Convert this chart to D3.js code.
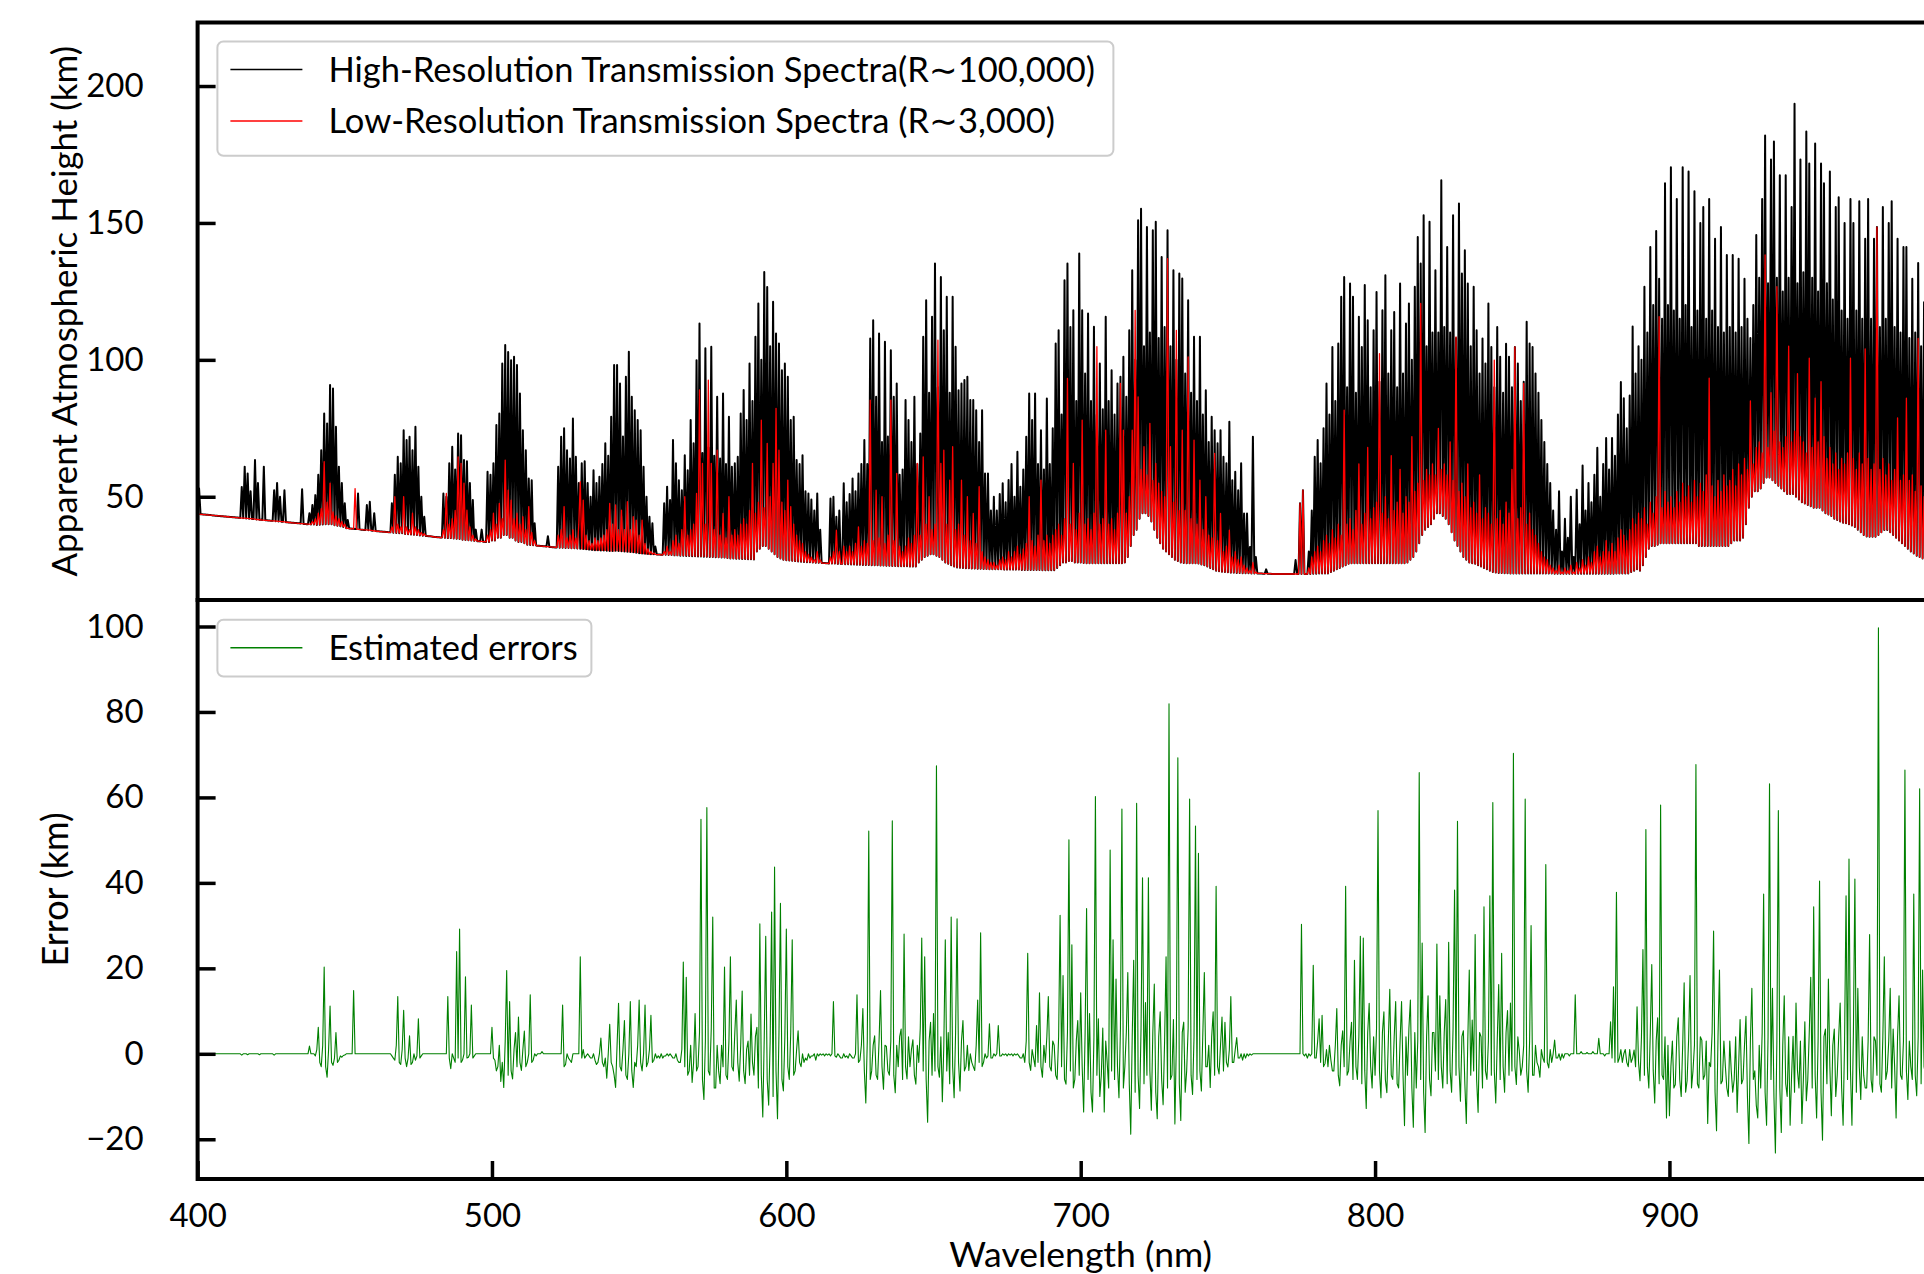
<!DOCTYPE html>
<html>
<head>
<meta charset="utf-8">
<script src="https://cdn.jsdelivr.net/npm/d3@7"></script>
<style>
  body { margin: 0; background: #fff; overflow: hidden; }
</style>
</head>
<body>
<svg id="chart" width="1924" height="1274"></svg>
<script>
// wavelength grid: first sample at 400 nm, every 0.5 nm
const startNm = 400;
const sampleStep = 0.5;

// apparent atmospheric height (km), high resolution (R~100,000)
const highResHeight = [
  43.7,53,43.6,43.6,43.5,43.5,43.4,43.4,43.3,43.3,43.2,43.2,43.1,43.1,43.0,43.0,42.9,42.9,42.8,42.8,
  42.7,42.7,42.6,42.6,42.5,42.5,42.4,42.4,42.3,42.3,53.6,42.2,61,42.1,58.5,42.0,52,41.9,41.9,63.4,
  41.7,55,41.6,41.6,41.5,61,41.4,41.4,41.3,41.3,41.2,41.2,52.4,41.1,55,41.0,50,40.9,40.9,52.4,
  40.7,40.7,40.6,40.6,40.5,40.5,40.4,40.4,40.3,40.3,40.2,52.7,40.1,40.1,40.0,40.0,44,39.9,47,39.9,
  50.6,39.7,58,39.8,67,39.9,80.4,40,76.8,40,90.8,40,89.5,39.6,75.6,39.4,61,39.2,55,39.0,
  47.6,38.5,41.5,38.4,38.4,38.3,38.3,38.2,38.2,51.2,38.1,38.0,38.0,37.9,37.9,47,37.8,48.2,37.7,37.6,
  44,37.5,37.4,37.4,37.3,37.3,37.2,37.2,37.1,37.1,37.0,37.0,47.6,36.9,58,36.8,64.6,36.7,62.2,36.7,
  74.3,36.4,70.7,36.3,71.9,36.2,67,36.1,75.6,36.0,61,35.9,50,35.8,42.7,35.7,35.7,35.6,35.6,35.5,
  35.4,35.3,35.3,35.2,35.2,35.1,35.1,51.2,35.0,50,34.9,62.2,34.9,68.3,34.8,60,34.7,73.1,34.6,72.5,
  34.3,63.4,34.2,63,34.1,55,34.0,48.8,33.9,38,33.8,33.8,33.7,38,33.6,33.6,33.5,59.1,33.5,58,
  34,62.2,34,76.2,35,80.4,35,98.7,36,105.4,36,102.9,35,99.9,35,101.1,34,98.1,33.5,87.7,
  33.5,74.3,33,67,32.5,56.7,32.4,56,32.3,40.3,32.2,32.1,32.1,32.0,32.0,31.9,31.9,31.8,35.6,31.7,
  31.7,31.6,31.6,31.5,31.5,61,31.4,71.9,31.4,75,31.3,67,31.3,64,31.2,78.6,31.2,64.6,31.1,55,
  31,62.2,30.9,63,30.8,55,30.7,50,30.6,59.7,30.5,55,30.5,57.3,30.4,62,30.4,69.5,30.3,65,
  30.2,79.2,30.2,98.1,30.3,98.1,30.2,91.4,30.1,72,30.0,93.8,29.9,103,29.8,86.5,29.7,81.6,29.6,78,
  29.4,74.3,29.3,61,29.2,50,29.1,42.7,29.0,40.3,29.0,31.8,28.9,28.9,28.9,28.8,28.8,47.6,28.8,53.7,
  28.7,48.8,28.7,70.7,28.6,62.2,28.6,56,28.5,52.4,28.5,65.2,28.4,59.7,28.4,78,28.3,69.5,28.3,99.9,
  28.2,113.3,28.2,66,28.1,104.2,28.1,68,28.0,104.8,28.0,65,27.9,86.5,27.9,64,27.8,87.7,27.8,62,
  27.6,79.2,27.5,61,27.5,62.2,27.4,64.6,27.4,80.4,27.3,89,27.3,78,27.2,98.7,27.2,85,27.1,108.4,
  30,120.6,31,100,32,132.1,32,126.6,31,105,30,121.2,29,109.6,28,106,27.5,96.2,27,98.7,
  26.8,93.8,26.7,78,26.6,79.2,26.5,63.4,26.4,62,26.3,65.2,26.2,52,26.1,51.2,26.1,49,26.0,45,
  25.9,51.2,25.9,38,25.8,25.8,25.8,25.7,25.7,25.6,49.4,25.6,50,25.6,42.7,25.5,45,25.5,25.5,54.9,
  25.4,48,25.4,51,25.3,56.7,25.3,52,25.2,58.5,25.2,62,25.1,70.7,25.1,62,25.1,107.8,25.0,114.5,
  25.0,86.5,25.0,109.6,24.9,70,24.9,106.6,24.8,72,24.8,103.5,24.7,86.5,24.7,91.4,24.6,58,24.6,60,
  24.6,85.3,24.6,78,24.5,70,24.5,86.5,24.5,62,26,73.1,27,108.4,28,121.8,28.5,88,29,115.7,
  29,135.2,28.5,90,28,130.3,27,110.8,26,123,25.5,88,25,123,24.5,104.8,24.2,88.9,24.1,91.4,
  24.0,92.6,23.9,93.8,23.9,85.3,23.8,85.3,23.8,81.6,23.7,70,23.7,81.6,23.6,58.5,23.6,58.5,23.5,45,
  23.5,50,23.5,45,23.5,51,23.5,54.9,23.4,48,23.4,56.1,23.4,62,23.4,50,23.4,66.4,23.4,53.7,
  23.3,60,23.3,71.9,23.3,87.7,23.3,78,23.3,87.7,23.3,62,23.3,74.3,23.2,60,23.2,85.9,23.2,62,
  23.2,75,23.2,106,24,110.8,25,80,26,129.1,26,135.2,26.5,112,26.5,118.1,26,85,26,138.8,
  26,118.1,25.8,95,25.7,116.9,25.7,85,25.7,112.1,25.7,80,25.7,98.7,25.7,82,25.7,115.7,25.7,85,
  25.7,96.2,25.7,80,25.7,91.4,25.7,93.8,25.7,101.1,26,86.5,28,110.8,32,132.7,36,100,38,151,
  42,155.2,44,105,44,148.5,43,110,41,147.3,38,150.4,35,108,33,137.6,31,112,30,147.3,
  29,105,28,132.7,27,100,26.5,131.5,26,129.7,25.8,95,25.7,121.8,25.7,88,25.7,108.4,25.7,85,
  25.6,108.4,25.3,80,25,88.9,24.5,70,24,79.2,23.5,74.3,23,69.5,22.8,74.3,22.6,64.6,22.5,62.2,
  22.4,77.4,22.3,56,22.3,59.1,22.2,52.4,22.2,62.2,22.1,43.9,22.1,43.9,22.1,31.7,22.0,71.9,22.0,28,
  22.0,22.0,22.0,22.0,21.9,21.9,23.5,21.9,21.9,21.9,21.8,21.8,21.8,21.8,21.8,21.8,21.8,21.8,21.8,21.8,
  21.8,21.8,21.8,21.8,21.8,21.8,26.9,21.8,21.8,47.6,21.8,52.4,21.8,21.8,21.8,30,21.8,45,21.9,64.6,
  21.9,70.7,22,62.2,22,75,22,91.4,22,80,22.5,104.7,23,85,23.5,106,24,123,24.5,130.3,
  25,90,25.5,127.9,25.7,123,25.7,88,25.7,115.7,25.7,104.7,25.7,127.3,25.7,114.5,25.7,90,25.7,110.8,
  25.7,124.8,25.7,92,25.7,118.1,25.7,130.9,25.7,95,25.7,110.8,25.7,117.5,25.7,90,25.7,127.9,25.7,95,
  25.7,113.3,26,120.6,27,100,28,126.7,30,144.9,33,135.2,36,152.8,38,105,39,150.4,40,110,
  42,132.7,44,110,44,165.6,43,112,42,141.2,40,110,37,152.8,34,108,32,157.1,30,131.5,
  28,140,27,127.9,26,105,25.7,126.7,25.5,110.8,25,95,24.5,107.8,24,98.7,23.5,120.6,23,104.7,
  22.5,90,22.3,112,22.2,101.1,22.2,88,22.1,105.9,22.1,101.1,22,90,22,104.7,22,98.7,22,85,
  22,92,22,113.9,22,106,22,104.7,22,95,22,88,22,78,22,70,22,62,22,55,
  22,45,21.9,38,21.9,52,21.9,30,21.9,42,21.9,35,21.9,50,21.9,28,21.9,52.6,21.9,40,
  21.9,61.4,21.9,45,21.9,55,21.9,48,21.9,58,21.9,67.9,21.9,50,21.9,62,21.9,71.5,21.9,60,
  21.9,71.5,21.9,65,22,80,22,91.9,22,86,22,75,22,87,22.5,112.2,23,95,23.5,105,
  23,100,25,126.7,28,110,31,141.2,32,120,32,147.1,32.5,129.6,33,115,33,164.5,33,120,
  33,170.3,33,118,33,158.7,33,115,33,170.3,33,120,33,168.8,33,112,33,161.6,33,118,
  32,150,32,155.8,32,115,32,158.7,32,118,32,144.2,32,112,32,148.5,32,110,32,138.3,
  32,112,33,138.3,34,110,34,136.9,34,112,35,129.6,40,115,46,108,50,120,52,145.6,
  52,130,53,158.7,55,181.9,57,128,57,173.2,56,179.7,55,130,54,167.4,53,125,52,167.4,
  51,130,51,155.8,51,193.5,50,128,49,173.2,48,132,47.5,183.4,47,171.7,46.5,130,46,179,
  46,125,46,171.7,45,164.5,44,128,43.5,168.8,43,122,42,155.8,41.5,159.4,41,118,40.5,150,
  40.3,115,40,158.7,39.5,150,39,118,38,157.9,37,115,36,144.2,35.5,158.7,35.4,115,35.4,144.2,
  35.4,148.5,36,112,37,155.8,37.9,115,37.9,150,37,157.9,36,112,35,144.2,34,110,33,141.2,
  32,141.2,31,108,30,129.6,29.3,110,28.5,135.4,28,105,27.5,121,27,129.6,26.5,100,26,115
];

// apparent atmospheric height (km), low resolution (R~3,000)
const lowResHeight = [
  43.7,43.7,43.6,43.6,43.5,43.5,43.4,43.4,43.3,43.3,43.2,43.2,43.1,43.1,43.0,43.0,42.9,42.9,42.8,42.8,
  42.7,42.7,42.6,42.6,42.5,42.5,42.4,42.4,42.3,42.3,42.2,42.2,42.2,42.1,42.1,42.0,42.0,41.9,41.9,41.8,
  41.7,41.7,41.6,41.6,41.5,41.5,41.4,41.4,41.3,41.3,41.2,41.2,41.2,41.1,41.1,41.0,41.0,40.9,40.9,40.8,
  40.7,40.7,40.6,40.6,40.5,40.5,40.4,40.4,40.3,40.3,40.2,40.2,40.1,40.1,40.0,40.0,40.0,39.9,41,39.9,
  42,39.7,44,39.8,45.7,40,62.8,40,48,40,55,40,44.5,39.6,43,39.4,42,39.2,41,39.0,
  40,38.5,38.5,38.4,38.4,38.3,38.3,53,38.2,38.2,38.1,38.0,38.0,37.9,37.9,37.9,37.8,37.8,37.7,37.6,
  37.5,37.5,37.4,37.4,37.3,37.3,37.2,37.2,37.1,37.1,37.0,37.0,39,36.9,50,36.8,40,36.7,39,36.7,
  50,36.4,39,36.3,38,36.2,44,36.1,39,36.0,38,35.9,37,35.8,36.5,35.7,35.7,35.6,35.6,35.5,
  35.4,35.3,35.3,35.2,35.2,35.1,35.1,38,35.0,51.2,34.9,40,34.9,42,34.8,45,34.7,64.6,34.6,62.2,
  34.3,55,34.2,45.1,34.1,39,34.0,36,33.9,34.5,33.8,33.8,33.7,33.7,33.6,33.6,33.5,36,33.5,38,
  34,44,34,40,35,47.6,35,42,36,63.4,36,52.4,35,48.8,35,42,34,44,33.5,40,
  33.5,42.7,33,38,32.5,46.4,32.4,37,32.3,34,32.2,32.1,32.1,32.0,32.0,31.9,31.9,31.8,31.8,31.7,
  31.7,31.6,31.6,31.5,31.5,36,31.4,38,31.4,46.4,31.3,35,31.3,36,31.2,38,31.2,35,31.1,40,
  55.5,31,48.8,30.9,36,30.8,34,30.7,33,30.6,35,30.5,34,30.5,35,30.4,36,30.4,38,30.3,
  47.6,30.2,40,30.2,47,30.3,38,30.2,45.1,30.1,38,30.0,48.2,29.9,38,29.8,42.7,29.7,41.5,29.6,
  36,29.3,41.5,29.2,33,29.1,31,29.0,30,29.0,29.5,29.0,28.9,28.9,28.9,28.8,28.8,30,28.8,32,
  28.8,30,28.7,34,28.7,36,28.6,33,28.6,38,28.5,50,28.5,36,28.4,38,28.4,40,28.3,51.2,
  28.3,89,28.2,62.2,28.2,40,28.1,92.6,28.1,62.2,28.0,38,28.0,67,27.9,36,27.9,43.9,27.8,35,
  27.6,50,27.5,36,27.5,38,27.4,36,27.4,40,27.3,42,27.3,40,27.2,45,27.2,62.2,27.1,44,
  30,48,31,78,32,46,32,69.5,31,50,30,62.2,29,82.3,28,67,27.5,48,27,45,
  26.8,56.1,26.7,46.4,26.6,40,26.5,36,26.4,34,26.3,33,26.2,30,26.1,29,26.1,28,26.0,27,
  25.9,30,25.9,27,25.8,25.8,25.8,25.7,25.7,25.6,28,25.6,30,25.6,37.8,25.5,30,25.5,25.5,32,
  25.4,30,25.4,32,25.3,30,25.3,33,25.2,39,25.2,32,25.1,34,25.1,33,25.1,85.3,25.0,34,
  25.0,52.4,25.0,35,24.9,50,24.9,33,24.8,36,24.8,85.3,24.7,34,24.7,58.5,24.6,32,24.6,30,
  24.6,32,24.6,35,24.5,33,24.5,36,24.5,62.2,26,36,27,64.6,28,40,28.5,50,29,38,
  29,40,28.5,107.2,28,62.2,27,67,26,40,25.5,56.1,25,68.3,24.5,38,24.2,40,24.1,56.1,
  24.0,36,23.9,50,23.9,34,23.8,43.9,23.8,33,23.7,53.7,23.7,30,23.6,28,23.6,27,23.5,26,
  23.5,26,23.5,25,23.5,27,23.5,28,23.4,27,23.4,30,23.4,28,23.4,30,23.4,32,23.4,29,
  23.3,31,23.3,33,23.3,50,23.3,34,23.3,32,23.3,36,23.3,56.1,23.2,34,23.2,36,23.2,33,
  23.2,36,23.2,38,24,40,25,36,26,42,26,93.2,26.5,40,26.5,62.2,26,38,26,44,
  26,78,25.8,40,25.7,42,25.7,38,25.7,44,25.7,104.8,25.7,40,25.7,42,25.7,74.3,25.7,40,
  25.7,42,25.7,38,25.7,44,25.7,91.4,25.7,74.3,26,44,28,50,32,74.3,36,118.1,38,86.5,
  42,60,44,68.3,44,58,43,76.8,41,56,38,62.2,35,55,33,52,31,50,30,137,
  29,68.3,28,48,27,110.8,26.5,45,26,74.3,25.8,45,25.7,101.1,25.7,42,25.7,70.7,25.7,40,
  25.6,56.1,25.3,38,25,50,24.5,36,24,35,23.5,65.8,23,34,22.8,43.9,22.6,30,22.5,32,
  22.4,37.8,22.3,28,22.3,30,22.2,27,22.2,28,22.1,25,22.1,24,22.1,23,22.0,26,22.0,22.5,
  22.0,22.0,22.0,22.0,21.9,21.9,21.9,21.9,21.9,21.9,21.8,21.8,21.8,21.8,21.8,21.8,21.8,21.8,21.8,21.8,
  21.8,21.8,21.8,21.8,21.8,21.8,21.8,21.8,21.8,47.6,21.8,52.4,21.8,21.8,21.8,24,21.8,28,21.9,30,
  21.9,32,22,30,22,34,22,36,22,33,22.5,38,23,35,23.5,40,24,36,24.5,81.6,
  25,40,25.5,42,25.7,38,25.7,45,25.7,62,25.7,40,25.7,44,25.7,68,25.7,42,25.7,46,
  25.7,48,25.7,102.3,25.7,44,25.7,50,25.7,42,25.7,65,25.7,45,25.7,48,25.7,60,25.7,44,
  25.7,50,26,48,27,72,28,52,30,55,33,120.6,36,56,38,60,39,58,40,62,
  42,58,44,75,44,60,43,62,42,58,40,70,37,56,34,108.4,32,52,30,55,
  28,50,27,62,26,46,25.7,48,25.5,44,25,58,24.5,42,24,46,23.5,44,23,40,
  22.5,99.9,22.3,42,22.2,45,22.2,40,22.1,48,22.1,44,22,60,22,104.7,22,42,22,46,
  22,91.4,22,40,22,44,22,38,22,36,22,33,22,30,22,28,22,27,22,25,
  22,24,21.9,23,21.9,25,21.9,22.5,21.9,24,21.9,23,21.9,25,21.9,22.5,21.9,26,21.9,24,
  21.9,27,21.9,25,21.9,28,21.9,26,21.9,30,21.9,32,21.9,28,21.9,30,21.9,34,21.9,30,
  21.9,33,21.9,30,22,35,22,38,22,36,22,34,22,38,22.5,42,23,40,23.5,44,
  23,42,25,46,28,40,31,48,32,44,32,50,32.5,115.8,33,46,33,52,33,48,
  33,50,33,46,33,52,33,48,33,55,33,50,33,54,33,48,33,56,33,50,
  32,55,32,52,32,58,32,93.3,32,54,32,50,32,56,32,52,32,58,32,54,
  32,56,33,60,34,54,34,62,34,58,35,64,40,60,46,85,50,62,52,68,
  52,70,53,66,55,138.3,57,68,57,88,56,74,55,126.7,54,70,53,68,52,72,
  51,105,51,70,51,74,50,95,49,72,48,70,47.5,66,47,100.6,46.5,68,46,86,
  46,70,46,92,45,72,44,64,43.5,68,43,62,42,66,41.5,60,41,64,40.5,62,
  40.3,66,40,100.6,39.5,64,39,60,38,66,37,62,36,104,35.5,64,35.4,60,35.4,62,
  35.4,148.5,36,60,37,64,37.9,58,37.9,62,37,56,36,60,35,78.8,34,56,33,58,
  32,86,31,56,30,58,29.3,52,28.5,107.8,28,54,27.5,50,27,52,26.5,48,26,50
];

// estimated error (km)
const errorKm = [
  0,0,0,0,0,0,0,0,0,0,0,0,0,0,0,0,0,0,0,0,
  0,0,0,0,0,0,0,0,0,0,-0.3,0,0,0,-0.2,0,0,0,0,0,
  0,0,-0.2,0,0,0,0,0,0,0,0,0,-0.3,0,0,0,0,0,0,0,
  0,0,0,0,0,0,0,0,0,0,0,0,0,0,0,0,1.8,0,0,0,
  -0.5,1,6.2,-2,-3,2,20.3,-3,-5.5,1,11.2,-2,-2.7,-1,5,-2,-1.5,-0.5,-0.8,-0.4,
  -0.3,0,0,0,0,0,14.8,0,0,0,0,0,0,0,0,0,0,0,0,0,
  0,0,0,0,0,0,0,0,0,0,0,0,-0.5,-1,-1.5,2,13.4,-2,-2.5,1,
  10.2,-1,-3,-1,4.2,-2.5,-2,0,-1.5,-0.5,8.2,-1,-0.5,0,0,0,0,0,0,0,
  0,0,0,0,0,0,0,0,0,0,13.4,-1,-3.5,0,-1,-2,23.9,-1,29.2,-2,
  -1.5,0,18,-1,-0.8,0,11.4,-1,-0.5,0,0,0,0,0,0,0,0,0,0,0,
  6.2,-1,-1.5,-4,-3,2,-6.5,-2,-7.9,3,19.5,-5,12.2,-4,-5.9,1,5,-3,8.6,-2,
  -3.9,1,5.3,-3,-2,0,13.8,-2,-1.5,0,-0.5,0,0,0,0.5,0,0,0,0,0,
  0,0,0,0,0,0,0,0,11.4,-3,-2.5,0,-1,-1.5,-2,0,0,0,0,0,
  22.7,-1,1,-1,-0.5,0,-0.5,-1,-1,0,-1.5,-2.5,-2,0,3.7,-2,-3,-1,-5.7,0,
  6.9,-2,-3,-5,-7.9,2,11.8,-3,-4,1,7.8,-5,-6,0,12.2,-4,-7.9,-2,-3,2,
  12.6,-2,-4,0,11.4,-3,-2,1,9,-2,-1.5,0,-1,-0.5,-1,0,-1,-0.5,-0.5,0,
  -0.5,0,-0.5,-1,-1,0,-1.5,-2,-2,1,21.5,-3,17.9,-5,-4,2,-6.7,-2,9.4,-4,
  -3,5,54.9,-6,-10.7,3,57.6,-4,-5,6,32,-8,-8,2,-4,-7,2,-3,20.3,-5,
  -6,3,22.7,-3,-4,5,12.6,-2,-6.4,2,14.7,-4,-7,1,3,-5,9.3,-2,-5,4,
  6.2,-8,30.4,-5,-14.8,4,27.5,-6,-12,3,33.2,-10,43.7,-4,-15.2,5,35.2,-6,-8.7,4,
  29.2,-3,-6,5,26.7,-5,-4,1,5.4,-2,-3,0,-2,-1,-1.5,0,-1,-0.5,-0.5,0,
  -1.5,0,-0.5,0,-0.3,0,-0.5,0,-0.3,0,-0.5,0,12.2,-0.5,-0.8,0,-0.5,-1,-1,0,
  -0.8,-0.5,-1,0,-0.5,-1,-1,0,13.8,-2,-1.5,2,10.6,-4,-11.5,3,52.1,-6,-4,2,
  4.2,-5,-6,3,14.8,-3,-8.3,2,1.7,-4,-5,3,54.5,-5,-9.1,2,-3,4,5.8,-6,
  28,-3,-5.9,4,-3,1,3.3,-5,-7.1,2,-2,6,27.1,-4,22.7,-6,-16,3,7.4,-5,
  9.4,-4,67.4,-3,-5.5,4,-11.2,2,26.7,-4,5,-7,32,-3,-10.3,5,31.6,-2,-8.7,3,
  7.8,-4,-3,2,-3.9,0,-2,-3,-3.9,2,12.6,-2,28.3,-3,-2,0,-1,-0.5,7,-1,
  -1,0,-0.5,0,6.6,-0.5,-0.5,0,-0.3,0,-0.5,0,-0.3,0,-0.5,0,-0.3,0,-0.5,-1,
  -1,0,-2,3,23.5,-2,-3.9,1,-1,-3,6.6,-2,14.3,-3,-5.5,2,-2,4,13.4,-3,
  -4,3,2,-5,-6,4,32.4,-3,18.3,-6,-7.1,5,50.1,-4,25.5,-8,-6,3,7.8,-5,
  14.3,-3,-13.6,5,34,-6,9.4,-9,-13.6,4,60.2,-5,8.2,-10,-5,6,-13.6,3,-2,-8,
  47.7,-4,26.7,-6,17.5,-3,-10.3,6,57.3,-8,-3,5,19,-7,-18.8,4,21.9,-9,58.6,-5,
  -12.8,6,41.2,-7,12,-5,41.2,-4,-13.2,5,16.3,-9,-15.2,4,9.8,-6,-11.9,3,22.7,-8,
  81.9,-6,-5,8,-16.4,3,69.3,-7,-15.6,5,7.4,-9,-4,6,59.6,-5,-9.5,4,53.3,-6,
  46.9,-4,-8.7,5,19,-3,-3,2,-7.9,4,9.8,-5,39.2,-3,-4.7,2,8.6,-4,7.4,-2,
  -3.1,1,13.4,-2,-2,1,3.8,-1,-1,0,-1.5,0,-1,0,-0.5,0,-0.3,0,0,0,
  0,0,0,0,0,0,0,0,0,0,0,0,0,0,0,0,0,0,0,0,
  0,0,0,0,0,0,0,0,0,0,30.3,0,-0.5,0,-1,0,-0.5,0,20.7,-1,
  -1,3,8.2,-2,9,-3,-2.3,1,-3,2,-1.5,-4,-4,2,10.6,-5,-7.5,2,5.4,-3,
  39.2,-5,-4,3,7.4,-6,21.9,-3,-6,4,27.5,-7,27.1,-4,-12.8,5,11.8,-3,-8,4,
  -5,6,56.9,-4,-10.3,5,9.8,-6,-9.1,3,15.1,-5,-6,4,12.2,-7,-8,3,12.2,-5,
  -16.8,4,-5,6,12.6,-8,-17.2,5,-8,3,65.8,-6,25.9,-9,-18.4,4,13.6,-6,-9.8,5,
  5,-4,25.7,-6,13.6,-3,-8,5,12.7,-7,26.1,-4,-9,6,38.3,-5,54.4,-3,-11.1,4,
  5.4,-7,-16.3,3,19.6,-5,7.9,-4,27.9,-6,-13.7,5,4,-8,34.4,-4,-6,3,37,-5,
  58.8,-4,-11.5,3,16.2,-6,23.5,-3,-9,5,10.1,-5,11.9,-4,70.3,-3,-7.2,4,0.6,-5,
  -3,2,59.6,-4,-9,3,30,-5,-5,2,-2,-3,-5.5,1,-1,-2,44.3,-2,-3.3,1,
  -2,0,3.2,-1,-1,0,-1.5,0,-1,0,0,0,-0.5,0,0,0,13.8,0,0,0,
  0.5,0,0,0,0.3,0,0,0,0.5,0,0,0,3.6,0,0,0,-0.5,0,0,0,
  7.5,-1,15.7,-2,37.8,-2,-1,1,-2,0,1,-2,-3,1,-2,-1,0.9,-3,11,-2,
  -6.3,4,24.4,-5,52.5,-3,-8,5,20.9,-4,-11.5,3,8.4,-7,58.2,-5,-6,4,-15,2,
  -14.5,-3,3,-8,-7.2,4,8.4,-6,-10,2,16.6,-9,-6.3,3,18.3,-8,-4,2,67.7,-7,
  -8,4,3.2,-6,-5,3,-16.3,-2,-3,5,28.7,-9,-18,4,19.6,-7,-6.3,3,-2.9,-8,
  -10,3,-4,-9,-6,4,-13.7,-3,8,-7,-6,2,8.8,-10,-21,3,15.3,-6,-4,-12,
  -15,2,-8,5,37.4,-9,-16.7,4,63.2,-6,15.3,-10,-23.2,3,56.9,-8,-18.4,2,13.6,-7,
  -10,4,-16.7,-5,4.1,-9,11.9,-4,-8,3,-16.3,-6,7.5,-11,-6,5,17.9,-8,34.4,-5,
  -15,3,40.4,-9,-20.2,4,5.8,-7,17.5,-3,-14.5,2,5.8,-10,-5,4,11.9,-8,-16.7,3,
  37,-6,45.6,-4,-16.7,5,40.9,-9,15.3,-3,-10.7,4,-5,-8,-8,3,27.9,-6,-9,4,
  3,-5,99.7,-7,-9,4,22.7,-6,-4,3,15.3,-8,5.8,-3,-15,4,13.6,-5,-6,3,
  66.4,-4,-10.7,3,-3,-6,37.4,-5,-9.8,4,62,-7,19.6,-3,-5,4,8,-6,-6,2
];

const heightTicks = [50, 100, 150, 200];
const errorTicks = [-20, 0, 20, 40, 60, 80, 100];
const wavelengthTicks = [400, 500, 600, 700, 800, 900];
const spectraLegend = [
  { label: "High-Resolution Transmission Spectra(R\u223C100,000)", color: "#000000" },
  { label: "Low-Resolution Transmission Spectra (R\u223C3,000)", color: "#ff0000" }
];
const errorLegend = [{ label: "Estimated errors", color: "#008000" }];

const fontFamily = "Lato, 'DejaVu Sans', sans-serif";
const svg = d3.select("#chart");

const plotLeft = 197.6;
const plotRight = 1963.8;
const topPanel = { top: 22.5, bottom: 600 };
const bottomPanel = { top: 600, bottom: 1179 };

const x = d3.scaleLinear().domain([400, 1000]).range([plotLeft, plotRight]);
const yHeight = d3.scaleLinear().domain([12.3, 223.2]).range([topPanel.bottom, topPanel.top]);
const yError = d3.scaleLinear().domain([-29.3, 106.2]).range([bottomPanel.bottom, bottomPanel.top]);

const toPoints = (values) => values.map((v, i) => [startNm + i * sampleStep, v]);

// clip areas for the two panels
const defs = svg.append("defs");
[["clipTop", topPanel], ["clipBottom", bottomPanel]].forEach(([id, p]) => {
  defs.append("clipPath").attr("id", id)
    .append("rect")
    .attr("x", plotLeft)
    .attr("y", p.top)
    .attr("width", plotRight - plotLeft)
    .attr("height", p.bottom - p.top);
});

const heightLine = d3.line().x((d) => x(d[0])).y((d) => yHeight(d[1]));
const errorLine = d3.line().x((d) => x(d[0])).y((d) => yError(d[1]));

svg.append("path")
  .datum(toPoints(highResHeight))
  .attr("clip-path", "url(#clipTop)")
  .attr("fill", "none")
  .attr("stroke", "#000000")
  .attr("stroke-width", 2)
  .attr("stroke-linejoin", "round")
  .attr("d", heightLine);

svg.append("path")
  .datum(toPoints(lowResHeight))
  .attr("clip-path", "url(#clipTop)")
  .attr("fill", "none")
  .attr("stroke", "#ff0000")
  .attr("stroke-width", 1.3)
  .attr("stroke-linejoin", "round")
  .attr("d", heightLine);

svg.append("path")
  .datum(toPoints(errorKm))
  .attr("clip-path", "url(#clipBottom)")
  .attr("fill", "none")
  .attr("stroke", "#008000")
  .attr("stroke-width", 1.1)
  .attr("stroke-linejoin", "round")
  .attr("d", errorLine);

// axes, ticks pointing inwards
const styleAxis = (g) => {
  g.select(".domain").remove();
  g.attr("font-family", fontFamily).attr("font-size", 33);
  g.selectAll(".tick line").attr("stroke", "#000").attr("stroke-width", 3.5);
  g.selectAll(".tick text").attr("fill", "#000");
};

svg.append("g")
  .attr("transform", `translate(${plotLeft},0)`)
  .call(d3.axisLeft(yHeight).tickValues(heightTicks).tickSize(-18).tickPadding(54).tickFormat(d3.format("d")))
  .call(styleAxis);

svg.append("g")
  .attr("transform", `translate(${plotLeft},0)`)
  .call(d3.axisLeft(yError).tickValues(errorTicks).tickSize(-18).tickPadding(54).tickFormat(d3.format("d")))
  .call(styleAxis);

svg.append("g")
  .attr("transform", `translate(0,${bottomPanel.bottom})`)
  .call(d3.axisBottom(x).tickValues(wavelengthTicks).tickSize(-18).tickPadding(25).tickFormat(d3.format("d")))
  .call(styleAxis);

// panel frames
[topPanel, bottomPanel].forEach((p) => {
  svg.append("rect")
    .attr("x", plotLeft)
    .attr("y", p.top)
    .attr("width", plotRight - plotLeft)
    .attr("height", p.bottom - p.top)
    .attr("fill", "none")
    .attr("stroke", "#000")
    .attr("stroke-width", 4);
});

// axis labels
svg.append("text")
  .attr("transform", `translate(63,${(topPanel.top + topPanel.bottom) / 2}) rotate(-90)`)
  .attr("text-anchor", "middle")
  .attr("dominant-baseline", "central")
  .attr("font-family", fontFamily)
  .attr("font-size", 35)
  .text("Apparent Atmospheric Height (km)");

svg.append("text")
  .attr("transform", `translate(54,${(bottomPanel.top + bottomPanel.bottom) / 2}) rotate(-90)`)
  .attr("text-anchor", "middle")
  .attr("dominant-baseline", "central")
  .attr("font-family", fontFamily)
  .attr("font-size", 36)
  .text("Error (km)");

svg.append("text")
  .attr("x", (plotLeft + plotRight) / 2)
  .attr("y", 1267)
  .attr("text-anchor", "middle")
  .attr("font-family", fontFamily)
  .attr("font-size", 35.5)
  .text("Wavelength (nm)");

// legends
const drawLegend = (items, left, top, width, rowHeight) => {
  const lg = svg.append("g").attr("transform", `translate(${left},${top})`);
  lg.append("rect")
    .attr("width", width)
    .attr("height", items.length * rowHeight + 11)
    .attr("rx", 6)
    .attr("fill", "#ffffff")
    .attr("fill-opacity", 0.8)
    .attr("stroke", "#cccccc")
    .attr("stroke-width", 2);
  const row = lg.selectAll("g.row")
    .data(items)
    .enter()
    .append("g")
    .attr("class", "row")
    .attr("transform", (d, i) => `translate(0,${28 + i * rowHeight})`);
  row.append("line")
    .attr("x1", 13)
    .attr("x2", 85)
    .attr("stroke", (d) => d.color)
    .attr("stroke-width", 1.5);
  row.append("text")
    .attr("x", 111)
    .attr("y", 12)
    .attr("font-family", fontFamily)
    .attr("font-size", 34.5)
    .text((d) => d.label);
};

drawLegend(spectraLegend, 217.4, 41.5, 896, 51.6);
drawLegend(errorLegend, 217.4, 619.8, 374, 45.7);
</script>
</body>
</html>
